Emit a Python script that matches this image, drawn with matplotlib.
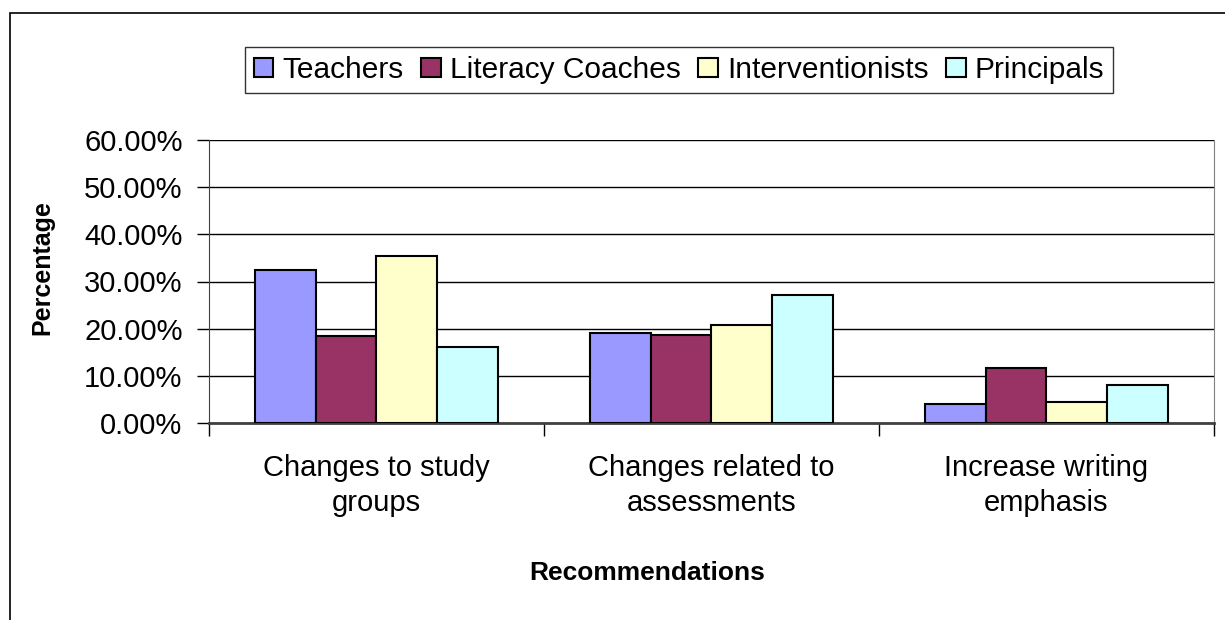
import matplotlib
matplotlib.use('Agg')
import matplotlib.pyplot as plt
from matplotlib.patches import Rectangle
import numpy as np

plt.rcParams['font.family'] = ['Liberation Sans', 'DejaVu Sans']

categories = ['Changes to study\ngroups', 'Changes related to\nassessments', 'Increase writing\nemphasis']
series = ['Teachers', 'Literacy Coaches', 'Interventionists', 'Principals']
teachers = [32.4, 19.0, 4.0]
coaches = [18.5, 18.6, 11.7]
interventionists = [35.4, 20.7, 4.4]
principals = [16.1, 27.2, 8.1]
colors = ['#9999FF', '#993366', '#FFFFCC', '#CCFFFF']

fig = plt.figure(figsize=(12.25, 6.2), dpi=100)
ax = fig.add_axes([209/1225, 1-423/620, (1214-209)/1225, (423-140)/620])

# outer chart frame (runs off right/bottom edge like the original)
fig.patches.append(Rectangle((10/1225, -0.2), 1.2, 1.2 - 13/620,
                             transform=fig.transFigure, fill=False,
                             edgecolor='black', linewidth=1.2))

x = np.arange(len(categories))
width = 0.182
values = [teachers, coaches, interventionists, principals]
for i, (vals, name) in enumerate(zip(values, series)):
    ax.bar(x + (i - 1.5) * width, vals, width, color=colors[i], edgecolor='black',
           linewidth=1.5, label=name, zorder=3)

ax.set_xlim(-0.5, 2.5)
ax.set_ylim(0, 60)
ax.set_yticks(np.arange(0, 61, 10))
ax.set_yticklabels(['%.2f%%' % v for v in np.arange(0, 61, 10)], fontsize=21)
ax.yaxis.grid(True, color='black', linewidth=1.0, zorder=0)
ax.set_axisbelow(True)

ax.set_xticks(x)
ax.set_xticklabels(categories, fontsize=21, linespacing=1.35)
ax.tick_params(axis='x', which='major', length=0, pad=22)
ax.set_xticks([-0.5, 0.5, 1.5, 2.5], minor=True)
ax.tick_params(axis='x', which='minor', length=9, direction='out', width=1)
ax.tick_params(axis='y', length=9, direction='out', width=1, pad=10)

ax.spines['top'].set_visible(False)
ax.spines['right'].set_color('#808080')
ax.spines['left'].set_color('#404040')
ax.spines['bottom'].set_color('#404040')
ax.spines['bottom'].set_linewidth(2)

# axis titles placed relative to the chart area, as Excel does
fig.text(42/1225, 1-268/620, 'Percentage', rotation=90, fontsize=18, fontweight='bold',
         ha='center', va='center')
fig.text(647/1225, 1-573/620, 'Recommendations', fontsize=19, fontweight='bold',
         ha='center', va='center')

leg = ax.legend(loc='center', bbox_to_anchor=(679/1225, 1-70/620), bbox_transform=fig.transFigure,
                ncol=4, fontsize=21.5, frameon=True, fancybox=False, edgecolor='black',
                handlelength=0.65, handleheight=0.65, handletextpad=0.3, columnspacing=0.6,
                borderpad=0.3)
leg.get_frame().set_linewidth(1.0)

fig.savefig('out.png', dpi=100)
